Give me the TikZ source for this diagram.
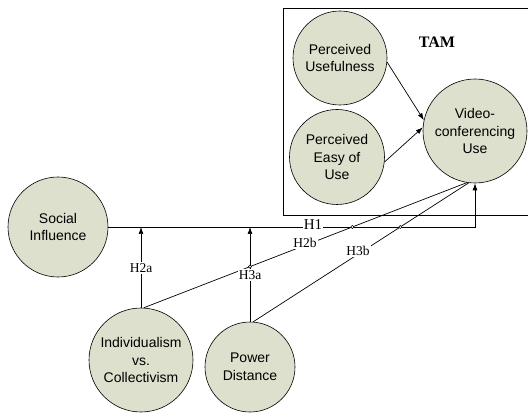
\documentclass[tikz,border=0pt]{standalone}
\usepackage{fontspec}
\setmainfont{Liberation Serif}
\newfontfamily\arialfont{Liberation Sans}
\usetikzlibrary{arrows.meta}
\definecolor{sage}{RGB}{221,224,204}
\tikzset{
  construct/.style={circle, draw=black, line width=0.6pt, fill=sage, inner sep=0pt, align=center,
    font=\arialfont\fontsize{14}{17.5}\selectfont},
  link/.style={line width=0.7pt},
  arrowlink/.style={line width=0.7pt, -{Latex[length=7pt,width=5pt]}},
  hyplabel/.style={fill=white, inner sep=1pt, font=\fontsize{13.5}{15}\selectfont},
  hop/.style={draw=black, fill=white, line width=0.5pt}
}
\begin{document}
\begin{tikzpicture}[x=1pt,y=-1pt]
\useasboundingbox (0,0) rectangle (528,417);
\clip (0,0) rectangle (528,417);
% TAM box
\draw[line width=0.6pt] (540,8) -- (283,8) -- (283,215) -- (540,215);
\node[font=\bfseries\fontsize{16}{18}\selectfont] (tam) at (437,42) {TAM};
% constructs
\node[construct, minimum size=94pt] (PU) at (340,58) {Perceived\\Usefulness};
\node[construct, minimum size=95pt] (PE) at (337,157) {Perceived\\Easy of\\Use};
\node[construct, minimum size=104pt] (VU) at (475,131) {Video-\\conferencing\\Use};
\node[construct, minimum size=100pt] (SI) at (58,227) {Social\\Influence};
\node[construct, minimum size=104pt] (IC) at (141,360) {Individualism\\vs.\\Collectivism};
\node[construct, minimum size=90pt] (PD) at (250,367) {Power\\Distance};
% TAM arrows
\draw[arrowlink] (PU.{-5}) -- (VU.{168});
\draw[arrowlink] (PE.{-6}) -- (VU.{176});
% H1
\coordinate (corner) at (VU.south |- SI.east);
\draw[arrowlink] (SI.east) -- (corner) -- (VU.south);
\coordinate (h2a) at (IC.north |- SI.east);
\coordinate (h3a) at (PD.north |- SI.east);
\draw[arrowlink] (IC.north) -- (h2a);
\draw[arrowlink] (PD.north) -- (h3a);
% H2b, H3b
\draw[link] (IC.{87}) -- (VU.{261});
\draw[link] (PD.{86}) -- (VU.{263});
% hops
\draw[hop] (intersection of IC.{87}--VU.{261} and PD.north--h3a) circle (1.6pt);
\draw[hop] (intersection of IC.{87}--VU.{261} and SI.east--corner) circle (1.6pt);
\draw[hop] (intersection of PD.{86}--VU.{263} and SI.east--corner) circle (1.6pt);
% labels
\node[hyplabel, font=\fontsize{15}{16}\selectfont] (l1) at (313,225) {H1};
\node[hyplabel] (l2a) at (141,268) {H2a};
\node[hyplabel] (l3a) at (250,275) {H3a};
\node[hyplabel] (l2b) at (305,243) {H2b};
\node[hyplabel] (l3b) at (358,251) {H3b};
\end{tikzpicture}
\end{document}
